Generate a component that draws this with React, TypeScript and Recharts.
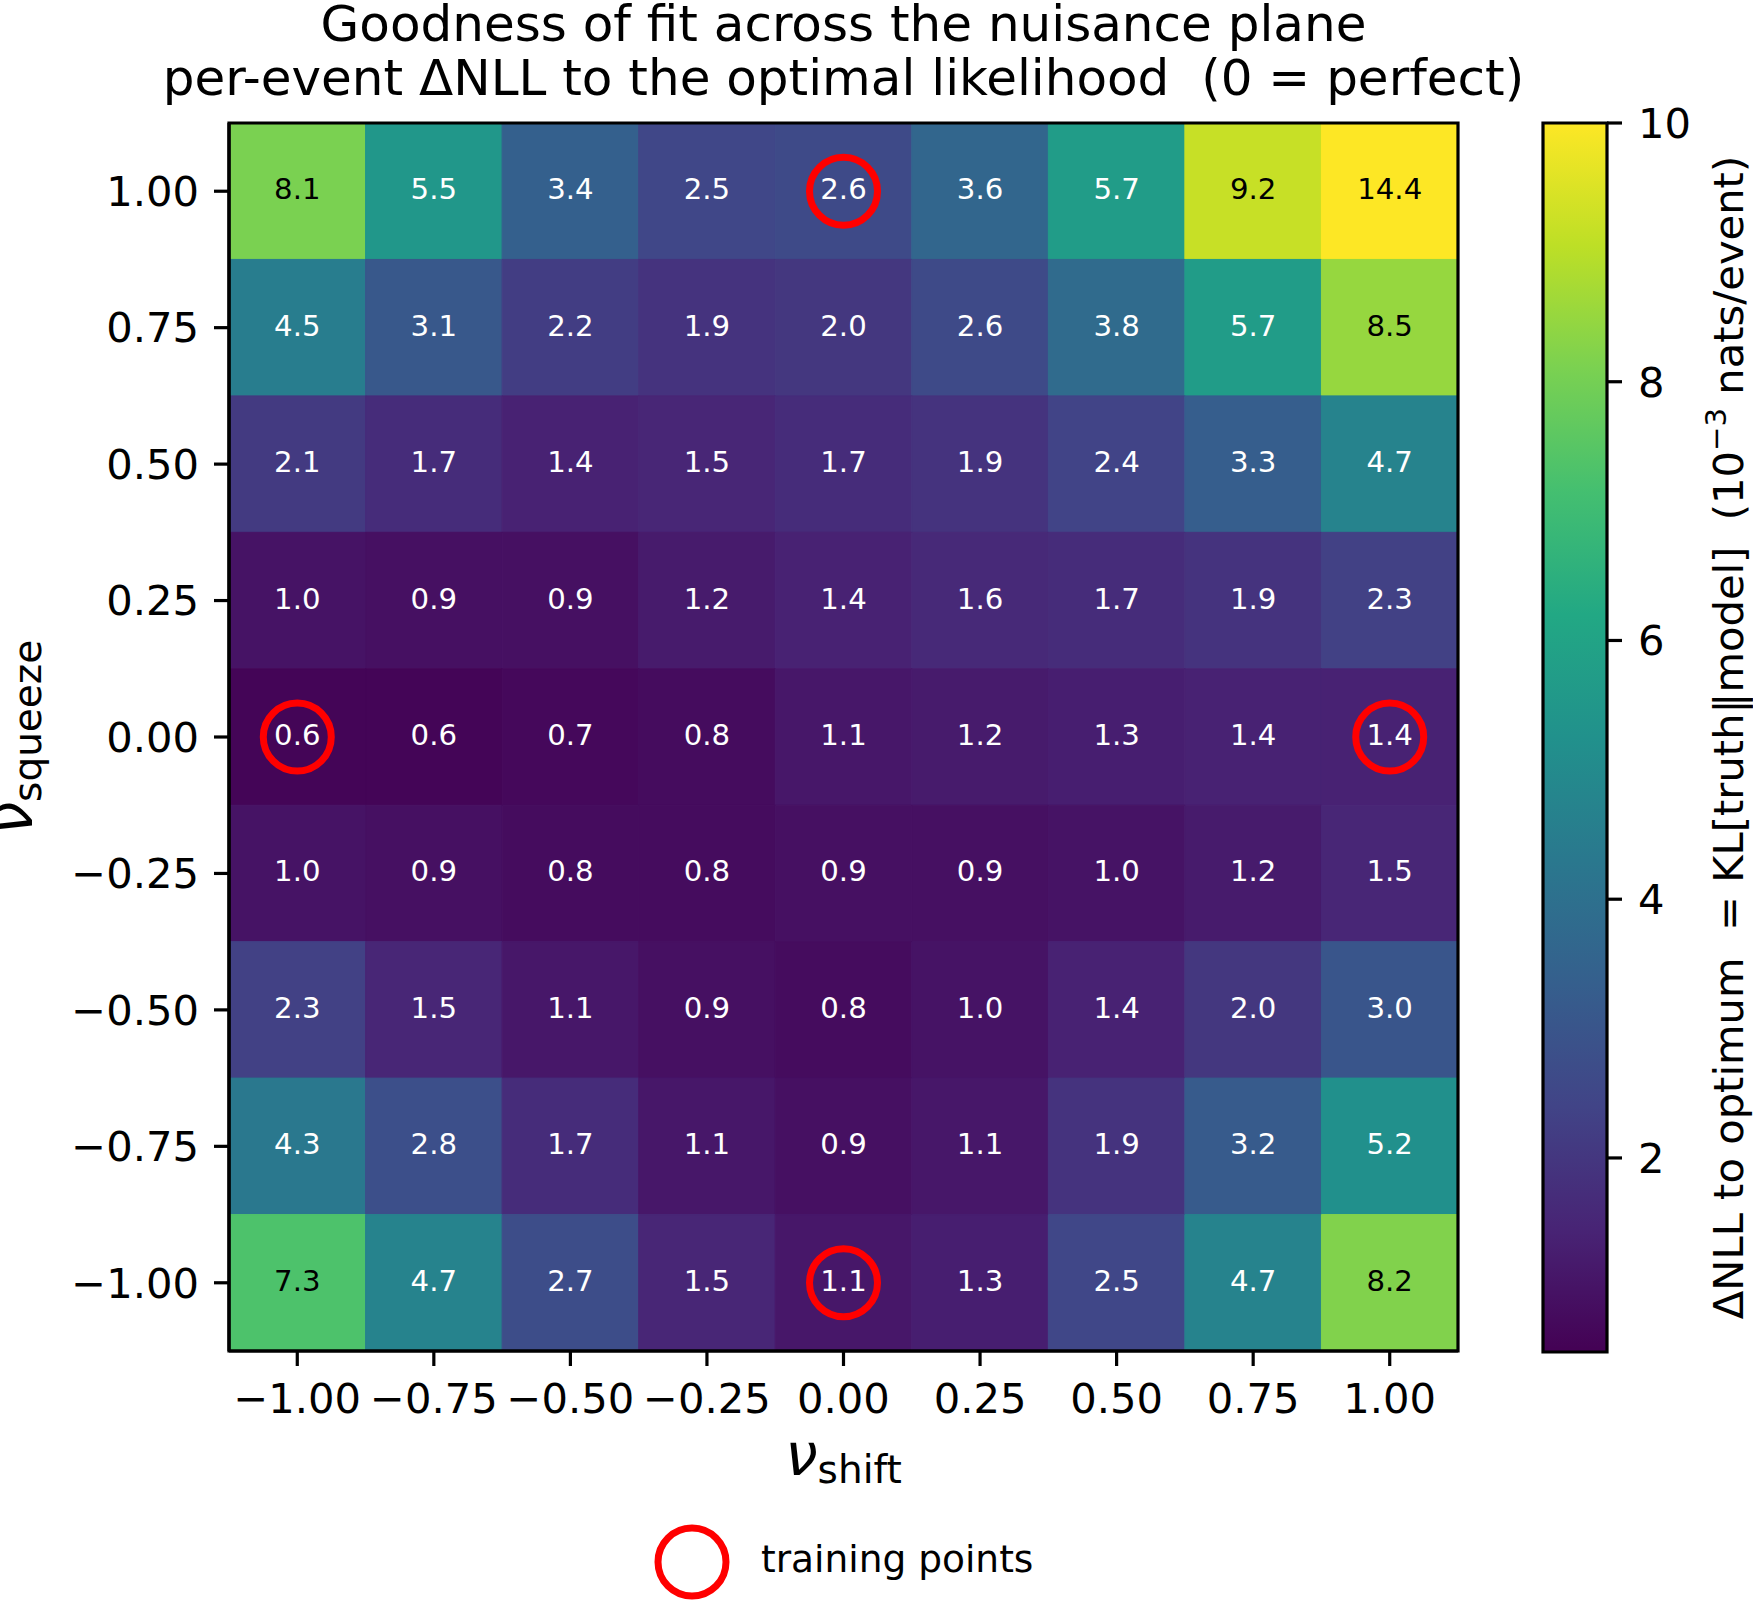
import React from 'react';
import { ScatterChart, Scatter, XAxis, YAxis, ReferenceArea, Label, Legend } from 'recharts';

// ---------- data ----------
const shiftValues = [-1, -0.75, -0.5, -0.25, 0, 0.25, 0.5, 0.75, 1];
const squeezeValues = [1, 0.75, 0.5, 0.25, 0, -0.25, -0.5, -0.75, -1];

const rowSqueeze100 = [8.1, 5.5, 3.4, 2.5, 2.6, 3.6, 5.7, 9.2, 14.4];
const rowSqueeze075 = [4.5, 3.1, 2.2, 1.9, 2.0, 2.6, 3.8, 5.7, 8.5];
const rowSqueeze050 = [2.1, 1.7, 1.4, 1.5, 1.7, 1.9, 2.4, 3.3, 4.7];
const rowSqueeze025 = [1.0, 0.9, 0.9, 1.2, 1.4, 1.6, 1.7, 1.9, 2.3];
const rowSqueeze000 = [0.6, 0.6, 0.7, 0.8, 1.1, 1.2, 1.3, 1.4, 1.4];
const rowSqueezeM025 = [1.0, 0.9, 0.8, 0.8, 0.9, 0.9, 1.0, 1.2, 1.5];
const rowSqueezeM050 = [2.3, 1.5, 1.1, 0.9, 0.8, 1.0, 1.4, 2.0, 3.0];
const rowSqueezeM075 = [4.3, 2.8, 1.7, 1.1, 0.9, 1.1, 1.9, 3.2, 5.2];
const rowSqueezeM100 = [7.3, 4.7, 2.7, 1.5, 1.1, 1.3, 2.5, 4.7, 8.2];

const gridRows = [
  rowSqueeze100, rowSqueeze075, rowSqueeze050, rowSqueeze025, rowSqueeze000,
  rowSqueezeM025, rowSqueezeM050, rowSqueezeM075, rowSqueezeM100,
];

const trainingShift = [0, -1, 1, 0];
const trainingSqueeze = [1, 0, 0, -1];

const colorbarTicks = [2, 4, 6, 8, 10];
const colorMin = 0.5;
const colorMax = 10;

const titleLine1 = 'Goodness of fit across the nuisance plane';
const titleLine2 = 'per-event \u0394NLL to the optimal likelihood  (0 = perfect)';
const legendName = 'training points';

// ---------- colormap (viridis) ----------
const VIRIDIS = [
  '#440154', '#482475', '#414487', '#355f8d', '#2a788e', '#21918c',
  '#22a884', '#44bf70', '#7ad151', '#bddf26', '#fde725',
];
const hexToRgb = (h: string) => [parseInt(h.slice(1, 3), 16), parseInt(h.slice(3, 5), 16), parseInt(h.slice(5, 7), 16)];
const viridis = (t: number) => {
  const c = Math.max(0, Math.min(1, t));
  const pos = c * (VIRIDIS.length - 1);
  const i = Math.min(VIRIDIS.length - 2, Math.floor(pos));
  const f = pos - i;
  const a = hexToRgb(VIRIDIS[i]);
  const b = hexToRgb(VIRIDIS[i + 1]);
  const m = a.map((v, k) => Math.round(v + (b[k] - v) * f));
  return `rgb(${m[0]},${m[1]},${m[2]})`;
};
const norm = (v: number) => (v - colorMin) / (colorMax - colorMin);

// ---------- derived tables ----------
const cells = gridRows.flatMap((row, r) =>
  row.map((v, c) => ({ x: shiftValues[c], y: squeezeValues[r], v }))
);
const training = trainingShift.map((x, i) => ({ x, y: trainingSqueeze[i] }));
const halfX = Math.abs(shiftValues[1] - shiftValues[0]) / 2;
const halfY = Math.abs(squeezeValues[1] - squeezeValues[0]) / 2;
const xDomain: [number, number] = [Math.min(...shiftValues) - halfX, Math.max(...shiftValues) + halfX];
const yDomain: [number, number] = [Math.min(...squeezeValues) - halfY, Math.max(...squeezeValues) + halfY];
const cbarExtent = [{ x: 0, y: colorMin }, { x: 1, y: colorMax }];

// ---------- styles ----------
const FONT = '"DejaVu Sans", sans-serif';
const TICK_FS = 41.67;
const CELL_FS = 29.2;
const LABEL_FS = 58;
const SUB_FS = 39;
const TITLE_FS = 50;
const LEGEND_FS = 37.5;
const LINE_W = 3.2;

const fmtTick = (v: number) => (v < 0 ? '\u2212' : '') + Math.abs(v).toFixed(2);

const XLabel = (props: any) => {
  const vb = props.viewBox || { x: 0, y: 0, width: 0, height: 0 };
  const cx = vb.x + vb.width / 2;
  const y = vb.y + 124;
  return (
    <text x={cx} y={y} textAnchor="middle" fontSize={LABEL_FS} fill="#000" fontFamily={FONT}>
      <tspan fontStyle="italic">{'\u03bd'}</tspan>
      <tspan fontSize={SUB_FS} dy={8}>shift</tspan>
    </text>
  );
};

const YLabel = (props: any) => {
  const vb = props.viewBox || { x: 0, y: 0, width: 0, height: 0 };
  const x = vb.x + 32;
  const y = vb.y + vb.height / 2;
  return (
    <text x={x} y={y} textAnchor="middle" fontSize={LABEL_FS} fill="#000" fontFamily={FONT} transform={`rotate(-90, ${x}, ${y})`}>
      <tspan fontStyle="italic">{'\u03bd'}</tspan>
      <tspan fontSize={SUB_FS} dy={9}>squeeze</tspan>
    </text>
  );
};

const CbarLabel = (props: any) => {
  const vb = props.viewBox || { x: 0, y: 0, width: 0, height: 0 };
  const x = vb.x + 136;
  const y = vb.y + vb.height / 2;
  return (
    <text x={x} y={y} textAnchor="middle" fontSize={TICK_FS} fill="#000" fontFamily={FONT} style={{ whiteSpace: 'pre' }} transform={`rotate(-90, ${x}, ${y})`}>
      <tspan>{'\u0394NLL to optimum  = KL[truth\u2016model]  (10'}</tspan>
      <tspan fontSize={TICK_FS * 0.7} dy={-17}>{'\u22123'}</tspan>
      <tspan dy={17}>{' nats/event)'}</tspan>
    </text>
  );
};

const CellText = (props: any) => {
  const { cx, cy, payload } = props;
  if (cx == null || cy == null) return null;
  const dark = norm(payload.v) > 0.6;
  return (
    <text x={cx} y={cy + 8} textAnchor="middle" fontSize={CELL_FS} fontFamily={FONT} fill={dark ? '#000' : '#fff'}>
      {payload.v.toFixed(1)}
    </text>
  );
};

const TrainingMarker = (props: any) => {
  const { cx, cy } = props;
  if (cx == null || cy == null) return null;
  return <circle cx={cx} cy={cy} r={34} fill="none" stroke="#ff0000" strokeWidth={7} />;
};

const NoMarker = () => <g />;

const renderLegend = (props: any) => {
  const items = (props.payload || []).filter((p: any) => p.type !== 'none' && p.value === legendName);
  const label = items.length ? items[0].value : legendName;
  return (
    <svg width={1753} height={80} style={{ display: 'block' }}>
      <circle cx={692} cy={42} r={34} fill="none" stroke="#ff0000" strokeWidth={7} />
      <text x={761} y={52} fontSize={LEGEND_FS} fontFamily={FONT} fill="#000">{label}</text>
    </svg>
  );
};

export default function App() {
  return (
    <div style={{ position: 'absolute', left: 0, top: 0, width: 1753, height: 1600, background: '#fff', fontFamily: FONT, overflow: 'hidden' }}>
      <svg width={1} height={1} style={{ position: 'absolute', left: 0, top: 0 }}>
        <defs>
          <linearGradient id="viridisBar" x1="0" y1="1" x2="0" y2="0">
            {VIRIDIS.map((c, i) => (
              <stop key={i} offset={i / (VIRIDIS.length - 1)} stopColor={c} />
            ))}
          </linearGradient>
        </defs>
      </svg>

      <svg width={1753} height={120} style={{ position: 'absolute', left: 0, top: 0 }}>
        <text x={843.5} y={40.5} textAnchor="middle" fontSize={TITLE_FS} fontFamily={FONT} fill="#000" style={{ whiteSpace: 'pre' }}>{titleLine1}</text>
        <text x={843.5} y={94.5} textAnchor="middle" fontSize={TITLE_FS} fontFamily={FONT} fill="#000" style={{ whiteSpace: 'pre' }}>{titleLine2}</text>
      </svg>

      <div style={{ position: 'absolute', left: 0, top: 0 }}>
        <ScatterChart width={1753} height={1600} margin={{ top: 123, right: 295, bottom: 189, left: 0 }}>
          <XAxis
            type="number"
            dataKey="x"
            domain={xDomain}
            ticks={shiftValues}
            allowDataOverflow
            interval={0}
            height={60}
            tickFormatter={fmtTick}
            tick={{ fontSize: TICK_FS, fill: '#000', fontFamily: FONT }}
            tickSize={15}
            tickMargin={17}
            axisLine={{ stroke: '#000', strokeWidth: LINE_W }}
            tickLine={{ stroke: '#000', strokeWidth: LINE_W }}
          >
            <Label content={XLabel} />
          </XAxis>
          <YAxis
            type="number"
            dataKey="y"
            domain={yDomain}
            ticks={squeezeValues}
            allowDataOverflow
            interval={0}
            width={229}
            tickFormatter={fmtTick}
            tick={{ fontSize: TICK_FS, fill: '#000', fontFamily: FONT }}
            tickSize={15}
            tickMargin={15}
            axisLine={{ stroke: '#000', strokeWidth: LINE_W }}
            tickLine={{ stroke: '#000', strokeWidth: LINE_W }}
          >
            <Label content={YLabel} />
          </YAxis>
          {cells.map((c, i) => {
            const fill = viridis(norm(c.v));
            return (
              <ReferenceArea
                key={`cell-${i}`}
                x1={c.x - halfX}
                x2={c.x + halfX}
                y1={c.y - halfY}
                y2={c.y + halfY}
                fill={fill}
                fillOpacity={1}
                stroke={fill}
                strokeWidth={1}
              />
            );
          })}
          <ReferenceArea
            x1={xDomain[0]}
            x2={xDomain[1]}
            y1={yDomain[0]}
            y2={yDomain[1]}
            fill="none"
            fillOpacity={0}
            stroke="#000"
            strokeWidth={LINE_W}
          />
          <Scatter name="values" data={cells} shape={CellText} legendType="none" isAnimationActive={false} />
          <Scatter name={legendName} data={training} shape={TrainingMarker} legendType="circle" isAnimationActive={false} />
          <Legend
            layout="vertical"
            align="center"
            verticalAlign="middle"
            content={renderLegend}
            wrapperStyle={{ position: 'absolute', left: 0, top: 1520, width: 1753, height: 80 }}
          />
        </ScatterChart>
      </div>

      <div style={{ position: 'absolute', left: 1500, top: 0 }}>
        <ScatterChart width={253} height={1600} margin={{ top: 123, right: 0, bottom: 248, left: 43 }}>
          <XAxis type="number" dataKey="x" domain={[0, 1]} allowDataOverflow hide />
          <YAxis
            type="number"
            dataKey="y"
            orientation="right"
            domain={[colorMin, colorMax]}
            ticks={colorbarTicks}
            allowDataOverflow
            interval={0}
            width={146}
            tick={{ fontSize: TICK_FS, fill: '#000', fontFamily: FONT }}
            tickSize={15}
            tickMargin={16}
            axisLine={false}
            tickLine={{ stroke: '#000', strokeWidth: LINE_W }}
          >
            <Label content={CbarLabel} />
          </YAxis>
          <ReferenceArea
            x1={0}
            x2={1}
            y1={colorMin}
            y2={colorMax}
            fill="url(#viridisBar)"
            fillOpacity={1}
            stroke="#000"
            strokeWidth={LINE_W}
            ifOverflow="visible"
          />
          <Scatter data={cbarExtent} shape={NoMarker} isAnimationActive={false} legendType="none" />
        </ScatterChart>
      </div>
    </div>
  );
}
